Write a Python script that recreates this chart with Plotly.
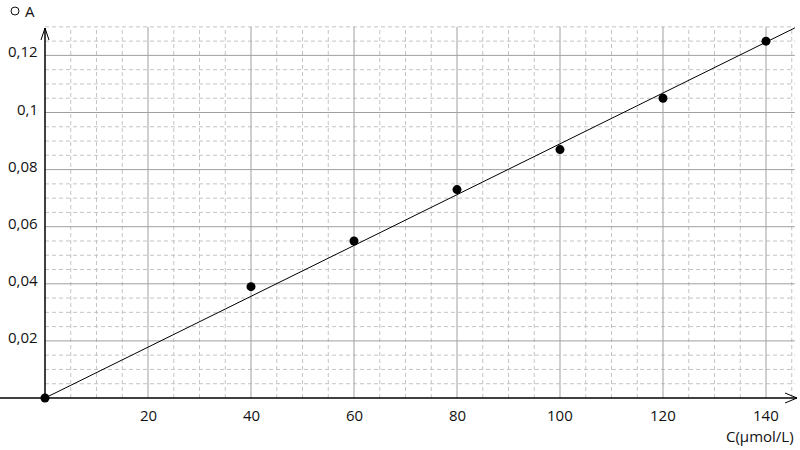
import plotly.graph_objects as go

# ---- data ----
C = [0, 40, 60, 80, 100, 120, 140]
A = [0, 0.039, 0.055, 0.073, 0.087, 0.105, 0.125]
x_ticks = [20, 40, 60, 80, 100, 120, 140]
x_labels = ["20", "40", "60", "80", "100", "120", "140"]
y_ticks = [0.02, 0.04, 0.06, 0.08, 0.1, 0.12]
y_labels = ["0,02", "0,04", "0,06", "0,08", "0,1", "0,12"]
x_minor_step = 5
y_minor_step = 0.005

# ---- geometry ----
W, H = 800, 450
XMIN, XMAX = -45 / 5.15, (800 - 45) / 5.15
YMIN, YMAX = -(450 - 398) / 2855, 398 / 2855
px_x = (XMAX - XMIN) / W
px_y = (YMAX - YMIN) / H
GX_MAX = 145.6
GY_MAX = 0.13

FONT = "Open Sans, sans-serif"
TXT = "#111"
FS = 15

# regression through origin
slope = sum(c * a for c, a in zip(C, A)) / sum(c * c for c in C)
line_x = [0, GX_MAX]
line_y = [slope * v for v in line_x]

fig = go.Figure()

shapes = []
# minor grid
n = 1
while n * x_minor_step <= GX_MAX:
    v = n * x_minor_step
    if v not in x_ticks:
        shapes.append(dict(type="line", x0=v, x1=v, y0=0, y1=GY_MAX, layer="below",
                           line=dict(color="#c4c4c4", width=1, dash="4px,3px")))
    n += 1
n = 1
while n * y_minor_step <= GY_MAX + 1e-9:
    v = round(n * y_minor_step, 4)
    if all(abs(v - t) > 1e-9 for t in y_ticks):
        shapes.append(dict(type="line", x0=0, x1=GX_MAX, y0=v, y1=v, layer="below",
                           line=dict(color="#c4c4c4", width=1, dash="4px,3px")))
    n += 1
# major grid
for v in x_ticks:
    shapes.append(dict(type="line", x0=v, x1=v, y0=0, y1=GY_MAX, layer="below",
                       line=dict(color="#a0a0a0", width=1)))
for v in y_ticks:
    shapes.append(dict(type="line", x0=0, x1=GX_MAX, y0=v, y1=v, layer="below",
                       line=dict(color="#a0a0a0", width=1)))
# axes
x_tip = XMIN + 797 * px_x
y_tip = YMAX - 28 * px_y
shapes.append(dict(type="line", x0=XMIN, x1=x_tip, y0=0, y1=0, line=dict(color="black", width=1.5)))
shapes.append(dict(type="line", x0=0, x1=0, y0=0, y1=y_tip, line=dict(color="black", width=1.5)))
# arrowheads
shapes.append(dict(type="path",
                   path=f"M {x_tip-12*px_x},{5*px_y} L {x_tip},0 L {x_tip-12*px_x},{-5*px_y}",
                   line=dict(color="black", width=1)))
shapes.append(dict(type="path",
                   path=f"M {-4*px_x},{y_tip-12*px_y} L 0,{y_tip} L {4*px_x},{y_tip-12*px_y}",
                   line=dict(color="black", width=1)))

fig.add_trace(go.Scatter(x=line_x, y=line_y, mode="lines",
                         line=dict(color="black", width=1), hoverinfo="skip"))
fig.add_trace(go.Scatter(x=C, y=A, mode="markers",
                         marker=dict(color="black", size=9)))

annotations = []
for v, lab in zip(x_ticks, x_labels):
    annotations.append(dict(x=v, y=0, text=lab, showarrow=False, yshift=-17,
                            xanchor="center", yanchor="middle",
                            font=dict(family=FONT, size=FS, color=TXT)))
for v, lab in zip(y_ticks, y_labels):
    annotations.append(dict(x=0, y=v, text=lab, showarrow=False, xshift=-5, yshift=4,
                            xanchor="right", yanchor="middle",
                            font=dict(family=FONT, size=FS, color=TXT)))
annotations.append(dict(x=796 / W, y=1 - 436 / H, xref="paper", yref="paper",
                        text="C(µmol/L)", showarrow=False, xanchor="right", yanchor="middle",
                        font=dict(family=FONT, size=FS, color=TXT)))
annotations.append(dict(x=23 / W, y=1 - 11 / H, xref="paper", yref="paper",
                        text="A", showarrow=False, xanchor="left", yanchor="middle",
                        font=dict(family=FONT, size=FS, color=TXT)))
shapes.append(dict(type="circle", xref="paper", yref="paper",
                   x0=11 / W, x1=19 / W, y0=1 - 15 / H, y1=1 - 7 / H,
                   line=dict(color=TXT, width=1)))

fig.update_layout(
    width=W, height=H,
    margin=dict(l=0, r=0, t=0, b=0),
    paper_bgcolor="white", plot_bgcolor="white",
    showlegend=False,
    xaxis=dict(range=[XMIN, XMAX], visible=False, fixedrange=True),
    yaxis=dict(range=[YMIN, YMAX], visible=False, fixedrange=True),
    shapes=shapes, annotations=annotations,
)

fig.write_html("out.html", config={"displayModeBar": False},
               post_script="document.body.style.margin='0';document.body.style.overflow='hidden';")
